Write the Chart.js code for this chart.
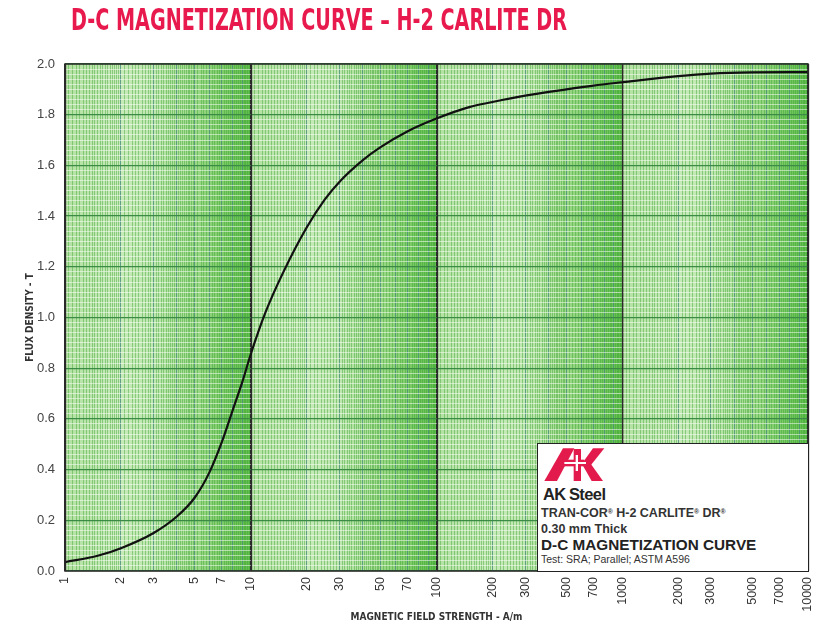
<!DOCTYPE html>
<html><head><meta charset="utf-8">
<script src="https://cdn.jsdelivr.net/npm/chart.js@4.4.1/dist/chart.umd.min.js"></script>
<style>
html,body{margin:0;padding:0;background:#fff;width:815px;height:627px;overflow:hidden;}
#wrap{position:relative;width:815px;height:627px;}
#c{position:absolute;left:0;top:0;}
#title{position:absolute;left:71px;top:4px;font-family:"Liberation Sans Narrow","DejaVu Sans Condensed","Liberation Sans",Arial,sans-serif;font-weight:bold;font-size:31px;line-height:31px;color:#e8194c;white-space:nowrap;transform-origin:0 0;}
#legend{position:absolute;left:537px;top:443px;width:272px;height:129px;box-sizing:border-box;background:#fff;border:1px solid #222;font-family:"Liberation Sans",Arial,sans-serif;color:#333;}
#legend div{position:absolute;white-space:nowrap;line-height:1;}
#legend svg{position:absolute;left:-7px;top:-3px;}
.r{font-size:0.55em;vertical-align:0.45em;}
</style></head>
<body><div id="wrap">
<canvas id="c" width="815" height="627"></canvas>
<div id="title">D-C MAGNETIZATION CURVE – H-2 CARLITE DR</div>
<div id="legend">
<svg width="95" height="45" viewBox="0 0 285 135">
<polygon points="40,120 78,120 130,22 96,22" fill="#e31b4c"/>
<polygon points="128,24 150,24 150,120 128,120" fill="#e31b4c"/>
<polygon points="80,56 160,56 160,76 80,76" fill="#e31b4c"/>
<polygon points="150,72 180,72 220,22 186,22" fill="#e31b4c"/>
<polygon points="150,64 176,64 216,120 182,120" fill="#e31b4c"/>
<polygon points="100,63 165,63 165,69 100,69" fill="#fff"/>
<polygon points="134,42 141,42 141,90 134,90" fill="#fff"/>
</svg>
<div id="ak" style="left:5px;top:42px;font-size:16.5px;font-weight:bold;letter-spacing:-0.6px;color:#222;">AK<span style="letter-spacing:0">&#8201;</span>Steel</div>
<div style="left:3px;top:62.5px;font-size:12.5px;font-weight:bold;">TRAN-COR<span class="r">®</span> H-2 CARLITE<span class="r">®</span> DR<span class="r">®</span></div>
<div style="left:3px;top:78.5px;font-size:12.5px;font-weight:bold;">0.30 mm Thick</div>
<div style="left:3px;top:92.5px;font-size:15.3px;font-weight:bold;color:#222;">D-C MAGNETIZATION CURVE</div>
<div style="left:3px;top:109.5px;font-size:10.5px;">Test: SRA; Parallel; ASTM A596</div>
</div>
</div>
<script>
// ---- data ----
const fieldH = [1, 1.5, 2, 3, 4, 5, 6, 7, 8, 9, 10, 12, 15, 20, 25, 30, 40, 50, 70, 100, 150, 200, 300, 500, 700, 1000, 2000, 3000, 5000, 10000];
const fluxB  = [0.035, 0.06, 0.09, 0.15, 0.215, 0.29, 0.39, 0.51, 0.635, 0.745, 0.855, 1.02, 1.18, 1.355, 1.465, 1.535, 1.62, 1.672, 1.735, 1.785, 1.83, 1.85, 1.875, 1.90, 1.915, 1.928, 1.952, 1.962, 1.967, 1.968];
const xTickLabels = [1, 2, 3, 5, 7, 10, 20, 30, 50, 70, 100, 200, 300, 500, 700, 1000, 2000, 3000, 5000, 7000, 10000];
const yTickLabels = ['0.0','0.2','0.4','0.6','0.8','1.0','1.2','1.4','1.6','1.8','2.0'];
const decades = [1, 10, 100, 1000];

// title fit
(function(){const t=document.getElementById('title');const w=t.getBoundingClientRect().width;t.style.transform='scaleX('+(496/w)+')';})();

// grid tick positions (paper ruling)
const xGrid = [];
decades.forEach(d=>{
  for(let m=1;m<2-1e-9;m+=0.05) xGrid.push(+(d*m).toFixed(4));
  for(let m=2;m<5-1e-9;m+=0.1) xGrid.push(+(d*m).toFixed(4));
  for(let m=5;m<10-1e-9;m+=0.2) xGrid.push(+(d*m).toFixed(4));
});
xGrid.push(10000);
const yGrid = [];
for(let i=0;i<=100;i++) yGrid.push(+(i*0.02).toFixed(2));

function isDecade(v){const l=Math.log10(v);return Math.abs(l-Math.round(l))<1e-6;}
function isInt(v){const d=Math.pow(10,Math.floor(Math.log10(v)+1e-9));const m=v/d;return Math.abs(m-Math.round(m))<1e-6;}

const shade = [[1,'#b3e1a2'],[2,'#c6eab8'],[3,'#bfe7b0'],[5,'#9cd888'],[7,'#7fcc6a'],[10,'#5ebd4a']];
const bgPlugin = {
  id:'paper',
  beforeDraw(chart){
    const {ctx, chartArea:a} = chart;
    const xs = chart.scales.x;
    ctx.save();
    decades.forEach(d=>{
      const x0 = xs.getPixelForValue(d), x1 = xs.getPixelForValue(d*10);
      const g = ctx.createLinearGradient(x0,0,x1,0);
      shade.forEach(([m,c])=>{ g.addColorStop((xs.getPixelForValue(d*m)-x0)/(x1-x0), c); });
      ctx.fillStyle = g;
      ctx.fillRect(x0,a.top,x1-x0,a.bottom-a.top);
    });
    ctx.restore();
  },
  beforeDatasetsDraw(chart){
    const {ctx, chartArea:a} = chart;
    const xs = chart.scales.x;
    ctx.save();
    ctx.strokeStyle='#2a2a2a';
    ctx.lineWidth=1.3;
    decades.concat([10000]).forEach(d=>{
      const x = Math.round(xs.getPixelForValue(d))+0.5;
      ctx.beginPath(); ctx.moveTo(x,a.top); ctx.lineTo(x,a.bottom); ctx.stroke();
    });
    ctx.restore();
  },
  afterDraw(chart){
    const {ctx, chartArea:a} = chart;
    ctx.save();
    ctx.strokeStyle='#2a2a2a';
    ctx.lineWidth=1.5;
    ctx.strokeRect(a.left,a.top,a.right-a.left,a.bottom-a.top);
    ctx.restore();
  }
};

new Chart(document.getElementById('c'), {
  type:'line',
  data:{datasets:[{
    data: fieldH.map((h,i)=>({x:h,y:fluxB[i]})),
    borderColor:'#111',
    borderWidth:2.2,
    pointRadius:0,
    fill:false,
    cubicInterpolationMode:'monotone'
  }]},
  options:{
    responsive:false,
    animation:false,
    devicePixelRatio:1,
    layout:{padding:{top:64,right:7,left:0,bottom:0}},
    plugins:{legend:{display:false},tooltip:{enabled:false}},
    scales:{
      x:{
        type:'logarithmic', min:1, max:10000,
        afterBuildTicks(s){ s.ticks = xGrid.map(v=>({value:v})); },
        afterFit(s){ s.height = 56; s.paddingRight = 0; s.paddingLeft = 0; },
        border:{display:false},
        grid:{
          drawTicks:false,
          color(c){const v=c.tick.value; if(isDecade(v)) return '#2a2a2a'; if(isInt(v)) return 'rgba(70,140,120,0.8)'; return 'rgba(60,165,50,0.45)';},
          lineWidth(c){const v=c.tick.value; if(isDecade(v)) return 1.3; return 1;}
        },
        ticks:{
          autoSkip:false, minRotation:90, maxRotation:90, padding:6,
          color:'#333', font:{family:'"Liberation Sans", Arial, sans-serif', size:12.5},
          callback(v){ const f = xTickLabels.find(t=>Math.abs(t-v)<1e-6); return f===undefined?'':String(f); }
        },
        title:{display:true,text:'MAGNETIC FIELD STRENGTH - A/m',color:'#333',
          font:{family:'"Liberation Sans Narrow","DejaVu Sans Condensed", Arial, sans-serif',size:10,weight:'bold'},
          padding:{top:0,bottom:4}}
      },
      y:{
        type:'linear', min:0, max:2,
        afterBuildTicks(s){ s.ticks = yGrid.map(v=>({value:v})); },
        afterFit(s){ s.width = 65; },
        border:{display:false},
        grid:{
          drawTicks:false,
          color(c){const k=Math.round(c.tick.value*100); if(k%20===0) return '#3b8a45'; if(k%10===0) return 'rgba(255,255,255,0.55)'; return 'rgba(255,255,255,0.5)';},
          lineWidth(c){const k=Math.round(c.tick.value*100); return k%20===0?1.3:1;}
        },
        ticks:{
          autoSkip:false, padding:10,
          color:'#444', font:{family:'"Liberation Sans", Arial, sans-serif', size:13},
          callback(v){ const k=Math.round(v*100); return k%20===0 ? yTickLabels[k/20] : ''; }
        },
        title:{display:true,text:'FLUX DENSITY - T',color:'#333',
          font:{family:'"Liberation Sans Narrow","DejaVu Sans Condensed", Arial, sans-serif',size:10,weight:'bold'},
          padding:{top:24,bottom:0}}
      }
    }
  },
  plugins:[bgPlugin]
});
</script>
</body></html>
